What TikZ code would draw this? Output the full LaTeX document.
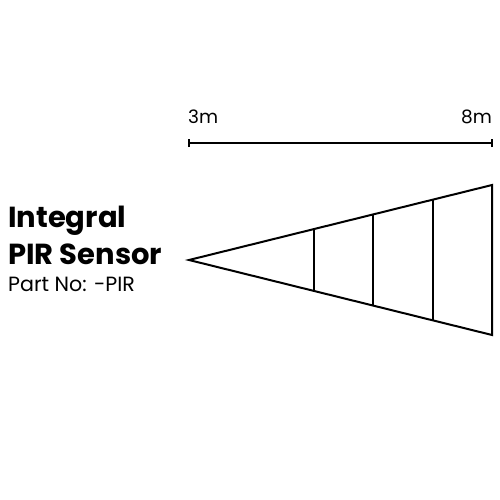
\documentclass[tikz,border=0pt]{standalone}
\usepackage{fontspec}
\setmainfont{Poppins}
\usetikzlibrary{calc}
\begin{document}
\begin{tikzpicture}[x=1pt,y=-1pt,
  edge/.style={line width=2pt,line join=miter},
  title/.style={anchor=base west,inner sep=0pt,font=\fontsize{29}{29}\selectfont\bfseries},
  sub/.style={anchor=base west,inner sep=0pt,font=\fontsize{20.6}{20.6}\selectfont},
  dist/.style={inner sep=0pt,font=\fontsize{18.5}{18.5}\selectfont}]
\useasboundingbox (0,0) rectangle (500,500);
% sensor labels
\node[title] (t1) at (8,227) {Integral};
\node[title] (t2) at (8,264) {PIR Sensor};
\node[sub] (t3) at (8,291) {Part No: -PIR};
% ruler
\coordinate (r1) at (189,143);
\coordinate (r2) at (492,143);
\draw[edge] (r1) -- (r2);
\draw[edge] ([yshift=-4pt]r1) -- ([yshift=4pt]r1);
\draw[edge] ([yshift=-4pt]r2) -- ([yshift=4pt]r2);
\node[dist,anchor=base west] (m3) at (188,124) {3m};
\node[dist,anchor=base east] (m8) at (492,124) {8m};
% detection cone
\coordinate (apex) at (189,260);
\coordinate (top) at (492,185);
\coordinate (bot) at (492,335);
\draw[edge] (apex) -- (top) -- (bot) -- cycle;
\foreach \xx in {314,373,433}{
  \draw[edge] ($(apex)!{(\xx-189)/303}!(top)$) -- ($(apex)!{(\xx-189)/303}!(bot)$);
}
\end{tikzpicture}
\end{document}
